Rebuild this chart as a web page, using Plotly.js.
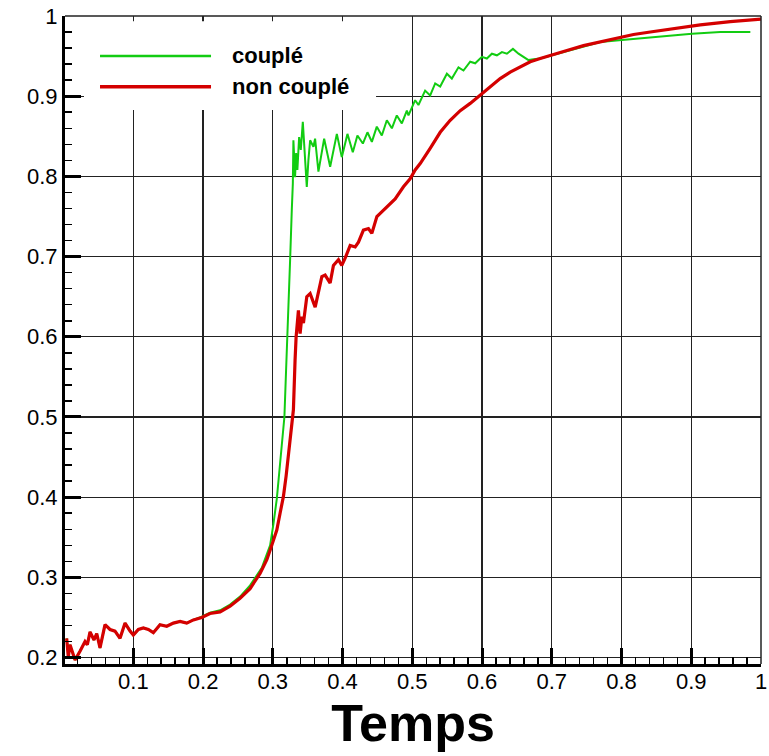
<!DOCTYPE html>
<html>
<head>
<meta charset="utf-8">
<script src="https://cdn.plot.ly/plotly-3.0.1.min.js"></script>
<style>
  html, body { margin: 0; padding: 0; background: #fff; }
  #chart { width: 769px; height: 756px; }
</style>
</head>
<body>
<div id="chart"></div>
<script>
// ---- Data ----
const seriesNames = ["couplé", "non couplé"];

const tNonCouple = [0.0044,0.0067,0.0092,0.0164,0.0235,0.0307,0.0340,0.0379,0.0436,0.0475,0.0522,0.0594,0.0666,0.0737,0.0809,0.0881,0.0953,0.1000,0.1072,0.1143,0.1215,0.1287,0.1382,0.1479,0.1574,0.1670,0.1766,0.1861,0.1981,0.2099,0.2244,0.2387,0.2530,0.2674,0.2817,0.2914,0.2985,0.3057,0.3104,0.3152,0.3190,0.3223,0.3258,0.3281,0.3295,0.3319,0.3334,0.3367,0.3391,0.3416,0.3439,0.3487,0.3535,0.3607,0.3654,0.3703,0.3750,0.3822,0.3869,0.3941,0.3989,0.4037,0.4109,0.4181,0.4228,0.4299,0.4371,0.4420,0.4492,0.4563,0.4658,0.4754,0.4873,0.4969,0.5041,0.5113,0.5256,0.5400,0.5543,0.5687,0.5830,0.5974,0.6117,0.6260,0.6404,0.6547,0.6691,0.6834,0.7002,0.7217,0.7455,0.7695,0.8006,0.8172,0.8412,0.8652,0.8890,0.9129,0.9560,1.0000];
const vNonCouple = [0.224,0.201,0.216,0.197,0.208,0.220,0.216,0.232,0.222,0.230,0.212,0.241,0.235,0.233,0.224,0.243,0.233,0.228,0.235,0.237,0.235,0.231,0.241,0.239,0.243,0.245,0.243,0.247,0.250,0.255,0.257,0.264,0.274,0.286,0.305,0.322,0.340,0.359,0.380,0.401,0.426,0.455,0.480,0.496,0.509,0.571,0.600,0.633,0.604,0.625,0.617,0.650,0.654,0.637,0.658,0.675,0.677,0.667,0.689,0.696,0.689,0.698,0.714,0.712,0.718,0.733,0.735,0.729,0.750,0.756,0.764,0.772,0.787,0.797,0.808,0.816,0.835,0.855,0.870,0.882,0.891,0.901,0.912,0.922,0.930,0.936,0.943,0.947,0.951,0.957,0.963,0.968,0.974,0.977,0.980,0.983,0.9855,0.989,0.993,0.996];

const tCouple = [0.0044,0.0067,0.0092,0.0164,0.0235,0.0307,0.0340,0.0379,0.0436,0.0475,0.0522,0.0594,0.0666,0.0737,0.0809,0.0881,0.0953,0.1000,0.1072,0.1143,0.1215,0.1287,0.1382,0.1479,0.1574,0.1670,0.1766,0.1861,0.1981,0.2099,0.2244,0.2387,0.2530,0.2674,0.2842,0.2961,0.3008,0.3057,0.3104,0.3143,0.3166,0.3190,0.3223,0.3248,0.3272,0.3287,0.3295,0.3319,0.3334,0.3352,0.3377,0.3401,0.3430,0.3463,0.3487,0.3510,0.3535,0.3582,0.3606,0.3654,0.3736,0.3822,0.3918,0.3989,0.4070,0.4147,0.4213,0.4291,0.4357,0.4420,0.4491,0.4563,0.4635,0.4707,0.4778,0.4850,0.4922,0.4945,0.5041,0.5088,0.5184,0.5256,0.5328,0.5400,0.5496,0.5567,0.5662,0.5734,0.5830,0.5902,0.5998,0.6069,0.6141,0.6213,0.6285,0.6356,0.6443,0.6523,0.6595,0.6666,0.6738,0.6834,0.7002,0.7217,0.7455,0.7695,0.8006,0.8412,0.8652,0.9010,0.9416,0.9847];
const vCouple = [0.224,0.201,0.216,0.197,0.208,0.220,0.216,0.232,0.222,0.230,0.212,0.241,0.235,0.233,0.224,0.243,0.233,0.228,0.235,0.237,0.235,0.231,0.241,0.239,0.243,0.245,0.243,0.247,0.251,0.256,0.259,0.266,0.276,0.290,0.312,0.340,0.366,0.398,0.442,0.475,0.500,0.558,0.625,0.696,0.758,0.791,0.845,0.799,0.829,0.808,0.849,0.833,0.868,0.816,0.787,0.820,0.845,0.837,0.847,0.806,0.847,0.812,0.853,0.824,0.853,0.830,0.851,0.841,0.855,0.843,0.862,0.851,0.870,0.860,0.876,0.866,0.882,0.876,0.895,0.889,0.907,0.901,0.916,0.912,0.928,0.922,0.936,0.932,0.943,0.941,0.949,0.947,0.953,0.951,0.955,0.953,0.959,0.953,0.949,0.945,0.946,0.947,0.951,0.956,0.962,0.9676,0.970,0.973,0.975,0.978,0.980,0.980];

const xTickVals = [0.1,0.2,0.3,0.4,0.5,0.6,0.7,0.8,0.9,1];
const xTickText = ["0.1","0.2","0.3","0.4","0.5","0.6","0.7","0.8","0.9","1"];
const yTickVals = [0.2,0.3,0.4,0.5,0.6,0.7,0.8,0.9,1];
const yTickText = ["0.2","0.3","0.4","0.5","0.6","0.7","0.8","0.9","1"];

const GREEN = "#12cc12";
const RED = "#d40000";
const FONT = "'Liberation Sans', Arial, Helvetica, sans-serif";

const traces = [
  { x: tCouple, y: vCouple, name: seriesNames[0], type: "scatter", mode: "lines",
    line: { color: GREEN, width: 2 } },
  { x: tNonCouple, y: vNonCouple, name: seriesNames[1], type: "scatter", mode: "lines",
    line: { color: RED, width: 3.2 } }
];

const axisCommon = {
  showline: true, linecolor: "#000", linewidth: 3,
  ticks: "inside", ticklen: 16, tickwidth: 3, tickcolor: "#000",
  showgrid: true, gridcolor: "#222", gridwidth: 1.3,
  zeroline: false,
  tickfont: { family: FONT, size: 22, color: "#000" },
  minor: { ticks: "inside", ticklen: 7, tickwidth: 1.5, tickcolor: "#000", dtick: 0.02, showgrid: false }
};

const layout = {
  width: 769, height: 756,
  margin: { l: 65, r: 8, t: 16, b: 92 },
  paper_bgcolor: "#fff", plot_bgcolor: "#fff",
  showlegend: false,
  xaxis: Object.assign({}, axisCommon, {
    range: [0.002, 1],
    tickmode: "array", tickvals: xTickVals, ticktext: xTickText,
    ticklabelstandoff: -4,
    minor: Object.assign({}, axisCommon.minor, { tick0: 0 }),
    title: { text: "<b>Temps</b>", font: { family: FONT, size: 52, color: "#000" }, standoff: 10 }
  }),
  yaxis: Object.assign({}, axisCommon, {
    range: [0.192, 1],
    tickmode: "array", tickvals: yTickVals, ticktext: yTickText,
    minor: Object.assign({}, axisCommon.minor, { tick0: 0 })
  }),
  shapes: [
    { type: "line", xref: "paper", yref: "paper", x0: 0, x1: 1, y0: 1, y1: 1, line: { color: "#222", width: 1.5 }, layer: "above" },
    { type: "line", xref: "paper", yref: "paper", x0: 1, x1: 1, y0: 0, y1: 1, line: { color: "#222", width: 1.5 }, layer: "above" },
    { type: "rect", xref: "paper", yref: "paper", x0: 0.0273, x1: 0.4469, y0: 0.855, y1: 0.992, fillcolor: "#fff", line: { width: 0 }, layer: "above" },
    { type: "line", xref: "paper", yref: "paper", x0: 0.0503, x1: 0.2098, y0: 0.9383, y1: 0.9383, line: { color: GREEN, width: 2.5 }, layer: "above" },
    { type: "line", xref: "paper", yref: "paper", x0: 0.0503, x1: 0.2098, y0: 0.8909, y1: 0.8909, line: { color: RED, width: 3.5 }, layer: "above" }
  ],
  annotations: [
    { xref: "paper", yref: "paper", x: 0.237, y: 0.9383, xanchor: "left", yanchor: "middle", showarrow: false,
      text: "<b>" + seriesNames[0] + "</b>", font: { family: FONT, size: 22, color: "#000" } },
    { xref: "paper", yref: "paper", x: 0.237, y: 0.8909, xanchor: "left", yanchor: "middle", showarrow: false,
      text: "<b>" + seriesNames[1] + "</b>", font: { family: FONT, size: 22, color: "#000" } }
  ]
};

Plotly.newPlot("chart", traces, layout, { staticPlot: true, displayModeBar: false });
</script>
</body>
</html>
